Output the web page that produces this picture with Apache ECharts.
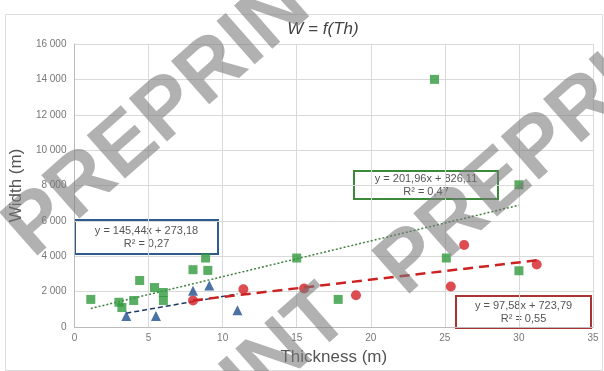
<!DOCTYPE html>
<html>
<head>
<meta charset="utf-8">
<script src="https://cdn.jsdelivr.net/npm/echarts@6/dist/echarts.min.js"></script>
<style>
  html, body { margin: 0; padding: 0; background: #fff; }
  #chart { width: 604px; height: 371px; }
</style>
</head>
<body>
<div id="chart"></div>
<script>
// data (thickness m, width m)
const greenPts = [
  [1.1, 1560], [3.0, 1400], [3.2, 1100], [4.0, 1500], [4.4, 2630],
  [5.4, 2230], [6.0, 1950], [6.0, 1500], [8.0, 3240], [8.85, 3900],
  [9.0, 3200], [15.0, 3900], [17.8, 1560], [24.3, 14000], [25.1, 3900],
  [30.0, 8040], [30.0, 3180]
];
const redPts = [
  [8.0, 1500], [11.4, 2130], [15.5, 2180], [19.0, 1790], [25.4, 2290],
  [26.3, 4640], [31.2, 3530]
];
const bluePts = [
  [3.5, 620], [5.5, 620], [8.0, 2050], [9.1, 2340], [11.0, 950]
];
// trendlines: slope, intercept, x range
const greenFit = { a: 201.96, b: 826.11, from: 1.1, to: 30 };
const redFit = { a: 97.58, b: 723.79, from: 8, to: 31.2 };
const blueFit = { a: 145.44, b: 273.18, from: 3.5, to: 11 };
const greenLabel = ['y = 201,96x + 826,11', 'R² = 0,47'];
const redLabel = ['y = 97,58x + 723,79', 'R² = 0,55'];
const blueLabel = ['y = 145,44x + 273,18', 'R² = 0,27'];

const fitLine = f => [[f.from, f.a * f.from + f.b], [f.to, f.a * f.to + f.b]];
const fmt = v => String(v).replace(/\B(?=(\d{3})+(?!\d))/g, ' ');

const chart = echarts.init(document.getElementById('chart'));

const eqBox = (lines, left, top, w, h, color) => ({
  type: 'group', left: left, top: top, z: 50,
  children: [
    { type: 'rect', shape: { x: 0, y: 0, width: w, height: h },
      style: { fill: '#fff', stroke: color, lineWidth: 2 } },
    { type: 'text', x: w / 2, y: h / 2 - 12,
      style: { text: lines[0], fill: '#555', font: '11px "Liberation Sans", Arial', align: 'center' } },
    { type: 'text', x: w / 2, y: h / 2 + 1,
      style: { text: lines[1], fill: '#555', font: '11px "Liberation Sans", Arial', align: 'center' } }
  ]
});

// diagonal watermark, reading up to the right
const mark = (x, y, align) => ({
  type: 'text', x: x, y: y, rotation: Math.PI * 0.23, z: 100, silent: true,
  style: { text: 'PREPRINT', fill: 'rgba(120,120,120,0.58)',
    font: 'bold 84px "Liberation Sans", Arial', align: align, verticalAlign: 'middle' }
});

const option = {
  animation: false,
  title: {
    text: 'W = f(Th)', left: 318, top: 16, textAlign: 'center',
    textStyle: { fontStyle: 'italic', fontWeight: 'normal', fontSize: 17, color: '#444',
      fontFamily: '"Liberation Sans", Arial' }
  },
  grid: { left: 67, right: 11, top: 44, bottom: 41 },
  xAxis: {
    type: 'value', min: 0, max: 35, interval: 5,
    name: 'Thickness (m)', nameLocation: 'middle', nameGap: 22,
    nameTextStyle: { fontSize: 17, color: '#555', fontFamily: '"Liberation Sans", Arial' },
    axisLine: { lineStyle: { color: '#bbb' } },
    axisTick: { show: false },
    axisLabel: { color: '#777', fontSize: 10, margin: 6 },
    splitLine: { lineStyle: { color: '#d9d9d9' } }
  },
  yAxis: {
    type: 'value', min: 0, max: 16000, interval: 2000,
    name: 'Width (m)', nameLocation: 'middle', nameGap: 44,
    nameTextStyle: { fontSize: 17, color: '#555', fontFamily: '"Liberation Sans", Arial' },
    axisLine: { show: true, lineStyle: { color: '#bbb' } },
    axisTick: { show: false },
    axisLabel: { color: '#777', fontSize: 10, margin: 8, formatter: fmt },
    splitLine: { lineStyle: { color: '#d9d9d9' } }
  },
  series: [
    { type: 'line', data: fitLine(greenFit), symbol: 'none', z: 3,
      lineStyle: { color: '#3f7f3f', width: 1.5, type: [2, 2] } },
    { type: 'line', data: fitLine(blueFit), symbol: 'none', z: 3,
      lineStyle: { color: '#1f3a66', width: 1.5, type: [5, 3] } },
    { type: 'line', data: fitLine(redFit), symbol: 'none', z: 3,
      lineStyle: { color: '#cc2222', width: 2.5, type: [10, 6] } },
    { type: 'scatter', data: greenPts, symbol: 'rect', symbolSize: 9, z: 4,
      itemStyle: { color: '#2f9a3c' } },
    { type: 'scatter', data: redPts, symbol: 'circle', symbolSize: 10, z: 4,
      itemStyle: { color: '#d41f26' } },
    { type: 'scatter', data: bluePts, symbol: 'triangle', symbolSize: 10, z: 5,
      itemStyle: { color: '#1f4f8f' } }
  ],
  graphic: [
    { type: 'rect', left: 3, top: 12, z: 0,
      shape: { width: 597, height: 356 }, style: { fill: 'none', stroke: '#ddd', lineWidth: 1 } },
    eqBox(blueLabel, 74, 219, 143, 34, '#2e5a8c'),
    eqBox(greenLabel, 353, 170, 144, 28, '#3a8a3a'),
    eqBox(redLabel, 455, 295, 135, 32, '#a33'),
    mark(18, 242, 'left'),
    mark(390, 280, 'left'),
    mark(338, 304, 'right')
  ]
};
chart.setOption(option);
</script>
</body>
</html>
